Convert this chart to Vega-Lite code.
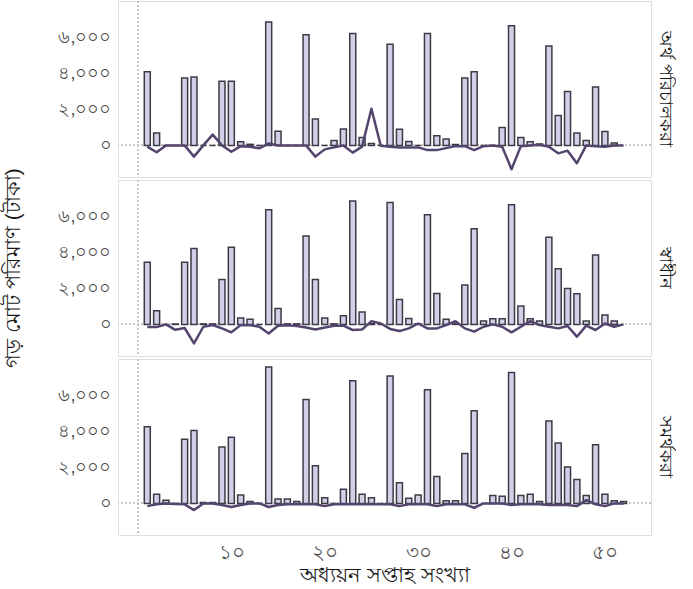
{
  "$schema": "https://vega.github.io/schema/vega-lite/v6.json",
  "padding": {"left": 2, "top": 0, "right": 2, "bottom": 4},
  "datasets": {
    "raw": [
      {"g":"অর্থ পরিচালকরা","week":1,"amount":4080,"diff":-70},
      {"g":"অর্থ পরিচালকরা","week":2,"amount":690,"diff":-380},
      {"g":"অর্থ পরিচালকরা","week":3,"amount":0,"diff":0},
      {"g":"অর্থ পরিচালকরা","week":4,"amount":0,"diff":0},
      {"g":"অর্থ পরিচালকরা","week":5,"amount":3740,"diff":0},
      {"g":"অর্থ পরিচালকরা","week":6,"amount":3790,"diff":-620},
      {"g":"অর্থ পরিচালকরা","week":7,"amount":0,"diff":0},
      {"g":"অর্থ পরিচালকরা","week":8,"amount":0,"diff":600},
      {"g":"অর্থ পরিচালকরা","week":9,"amount":3550,"diff":0},
      {"g":"অর্থ পরিচালকরা","week":10,"amount":3550,"diff":-350},
      {"g":"অর্থ পরিচালকরা","week":11,"amount":200,"diff":-40},
      {"g":"অর্থ পরিচালকরা","week":12,"amount":60,"diff":-70},
      {"g":"অর্থ পরিচালকরা","week":13,"amount":0,"diff":-160},
      {"g":"অর্থ পরিচালকরা","week":14,"amount":6830,"diff":110},
      {"g":"অর্থ পরিচালকরা","week":15,"amount":790,"diff":0},
      {"g":"অর্থ পরিচালকরা","week":16,"amount":0,"diff":0},
      {"g":"অর্থ পরিচালকরা","week":17,"amount":0,"diff":0},
      {"g":"অর্থ পরিচালকরা","week":18,"amount":6130,"diff":0},
      {"g":"অর্থ পরিচালকরা","week":19,"amount":1460,"diff":-620},
      {"g":"অর্থ পরিচালকরা","week":20,"amount":0,"diff":-220},
      {"g":"অর্থ পরিচালকরা","week":21,"amount":270,"diff":-110},
      {"g":"অর্থ পরিচালকরা","week":22,"amount":910,"diff":0},
      {"g":"অর্থ পরিচালকরা","week":23,"amount":6200,"diff":-400},
      {"g":"অর্থ পরিচালকরা","week":24,"amount":440,"diff":-70},
      {"g":"অর্থ পরিচালকরা","week":25,"amount":100,"diff":2030},
      {"g":"অর্থ পরিচালকরা","week":26,"amount":0,"diff":-20},
      {"g":"অর্থ পরিচালকরা","week":27,"amount":5600,"diff":-70},
      {"g":"অর্থ পরিচালকরা","week":28,"amount":900,"diff":-110},
      {"g":"অর্থ পরিচালকরা","week":29,"amount":220,"diff":-110},
      {"g":"অর্থ পরিচালকরা","week":30,"amount":0,"diff":-110},
      {"g":"অর্থ পরিচালকরা","week":31,"amount":6200,"diff":-260},
      {"g":"অর্থ পরিচালকরা","week":32,"amount":530,"diff":-260},
      {"g":"অর্থ পরিচালকরা","week":33,"amount":360,"diff":-150},
      {"g":"অর্থ পরিচালকরা","week":34,"amount":50,"diff":-40},
      {"g":"অর্থ পরিচালকরা","week":35,"amount":3740,"diff":-40},
      {"g":"অর্থ পরিচালকরা","week":36,"amount":4080,"diff":-260},
      {"g":"অর্থ পরিচালকরা","week":37,"amount":0,"diff":-40},
      {"g":"অর্থ পরিচালকরা","week":38,"amount":0,"diff":0},
      {"g":"অর্থ পরিচালকরা","week":39,"amount":990,"diff":-70},
      {"g":"অর্থ পরিচালকরা","week":40,"amount":6630,"diff":-1320},
      {"g":"অর্থ পরিচালকরা","week":41,"amount":440,"diff":-40},
      {"g":"অর্থ পরিচালকরা","week":42,"amount":200,"diff":0},
      {"g":"অর্থ পরিচালকরা","week":43,"amount":80,"diff":40},
      {"g":"অর্থ পরিচালকরা","week":44,"amount":5510,"diff":-70},
      {"g":"অর্থ পরিচালকরা","week":45,"amount":1660,"diff":-440},
      {"g":"অর্থ পরিচালকরা","week":46,"amount":2980,"diff":-290},
      {"g":"অর্থ পরিচালকরা","week":47,"amount":690,"diff":-990},
      {"g":"অর্থ পরিচালকরা","week":48,"amount":270,"diff":0},
      {"g":"অর্থ পরিচালকরা","week":49,"amount":3240,"diff":-40},
      {"g":"অর্থ পরিচালকরা","week":50,"amount":770,"diff":-70},
      {"g":"অর্থ পরিচালকরা","week":51,"amount":140,"diff":0},
      {"g":"অর্থ পরিচালকরা","week":52,"amount":null,"diff":0},
      {"g":"স্বাধীন","week":1,"amount":3450,"diff":-150},
      {"g":"স্বাধীন","week":2,"amount":760,"diff":-150},
      {"g":"স্বাধীন","week":3,"amount":0,"diff":0},
      {"g":"স্বাধীন","week":4,"amount":20,"diff":-300},
      {"g":"স্বাধীন","week":5,"amount":3450,"diff":-200},
      {"g":"স্বাধীন","week":6,"amount":4200,"diff":-1050},
      {"g":"স্বাধীন","week":7,"amount":30,"diff":-130},
      {"g":"স্বাধীন","week":8,"amount":30,"diff":-30},
      {"g":"স্বাধীন","week":9,"amount":2490,"diff":-220},
      {"g":"স্বাধীন","week":10,"amount":4280,"diff":-440},
      {"g":"স্বাধীন","week":11,"amount":350,"diff":-40},
      {"g":"স্বাধীন","week":12,"amount":280,"diff":-40},
      {"g":"স্বাধীন","week":13,"amount":0,"diff":-130},
      {"g":"স্বাধীন","week":14,"amount":6350,"diff":-500},
      {"g":"স্বাধীন","week":15,"amount":880,"diff":-70},
      {"g":"স্বাধীন","week":16,"amount":30,"diff":-40},
      {"g":"স্বাধীন","week":17,"amount":30,"diff":-90},
      {"g":"স্বাধীন","week":18,"amount":4900,"diff":-170},
      {"g":"স্বাধীন","week":19,"amount":2490,"diff":-280},
      {"g":"স্বাধীন","week":20,"amount":350,"diff":-170},
      {"g":"স্বাধীন","week":21,"amount":30,"diff":-70},
      {"g":"স্বাধীন","week":22,"amount":480,"diff":-70},
      {"g":"স্বাধীন","week":23,"amount":6830,"diff":-310},
      {"g":"স্বাধীন","week":24,"amount":690,"diff":-280},
      {"g":"স্বাধীন","week":25,"amount":30,"diff":180},
      {"g":"স্বাধীন","week":26,"amount":0,"diff":50},
      {"g":"স্বাধীন","week":27,"amount":6760,"diff":-250},
      {"g":"স্বাধীন","week":28,"amount":1380,"diff":-370},
      {"g":"স্বাধীন","week":29,"amount":330,"diff":-220},
      {"g":"স্বাধীন","week":30,"amount":30,"diff":50},
      {"g":"স্বাধীন","week":31,"amount":6080,"diff":-220},
      {"g":"স্বাধীন","week":32,"amount":1710,"diff":-220},
      {"g":"স্বাধীন","week":33,"amount":280,"diff":-40},
      {"g":"স্বাধীন","week":34,"amount":30,"diff":180},
      {"g":"স্বাধীন","week":35,"amount":2190,"diff":-220},
      {"g":"স্বাধীন","week":36,"amount":5300,"diff":-400},
      {"g":"স্বাধীন","week":37,"amount":190,"diff":-130},
      {"g":"স্বাধীন","week":38,"amount":310,"diff":0},
      {"g":"স্বাধীন","week":39,"amount":310,"diff":-130},
      {"g":"স্বাধীন","week":40,"amount":6630,"diff":-440},
      {"g":"স্বাধীন","week":41,"amount":1020,"diff":-130},
      {"g":"স্বাধীন","week":42,"amount":310,"diff":180},
      {"g":"স্বাধীন","week":43,"amount":190,"diff":-40},
      {"g":"স্বাধীন","week":44,"amount":4830,"diff":-130},
      {"g":"স্বাধীন","week":45,"amount":3090,"diff":-220},
      {"g":"স্বাধীন","week":46,"amount":1990,"diff":-90},
      {"g":"স্বাধীন","week":47,"amount":1700,"diff":-680},
      {"g":"স্বাধীন","week":48,"amount":190,"diff":-70},
      {"g":"স্বাধীন","week":49,"amount":3850,"diff":-310},
      {"g":"স্বাধীন","week":50,"amount":520,"diff":50},
      {"g":"স্বাধীন","week":51,"amount":190,"diff":-130},
      {"g":"স্বাধীন","week":52,"amount":null,"diff":0},
      {"g":"সমর্থকরা","week":1,"amount":4240,"diff":-150},
      {"g":"সমর্থকরা","week":2,"amount":510,"diff":-50},
      {"g":"সমর্থকরা","week":3,"amount":180,"diff":0},
      {"g":"সমর্থকরা","week":4,"amount":0,"diff":-30},
      {"g":"সমর্থকরা","week":5,"amount":3560,"diff":-50},
      {"g":"সমর্থকরা","week":6,"amount":4040,"diff":-370},
      {"g":"সমর্থকরা","week":7,"amount":50,"diff":0},
      {"g":"সমর্থকরা","week":8,"amount":50,"diff":0},
      {"g":"সমর্থকরা","week":9,"amount":3120,"diff":-90},
      {"g":"সমর্থকরা","week":10,"amount":3670,"diff":-200},
      {"g":"সমর্থকরা","week":11,"amount":460,"diff":-90},
      {"g":"সমর্থকরা","week":12,"amount":110,"diff":0},
      {"g":"সমর্থকরা","week":13,"amount":0,"diff":0},
      {"g":"সমর্থকরা","week":14,"amount":7560,"diff":-200},
      {"g":"সমর্থকরা","week":15,"amount":240,"diff":-90},
      {"g":"সমর্থকরা","week":16,"amount":240,"diff":-50},
      {"g":"সমর্থকরা","week":17,"amount":110,"diff":-50},
      {"g":"সমর্থকরা","week":18,"amount":5760,"diff":-50},
      {"g":"সমর্থকরা","week":19,"amount":2090,"diff":-50},
      {"g":"সমর্থকরা","week":20,"amount":310,"diff":-150},
      {"g":"সমর্থকরা","week":21,"amount":0,"diff":-50},
      {"g":"সমর্থকরা","week":22,"amount":790,"diff":-50},
      {"g":"সমর্থকরা","week":23,"amount":6790,"diff":-50},
      {"g":"সমর্থকরা","week":24,"amount":510,"diff":-50},
      {"g":"সমর্থকরা","week":25,"amount":310,"diff":-50},
      {"g":"সমর্থকরা","week":26,"amount":0,"diff":-50},
      {"g":"সমর্থকরা","week":27,"amount":7060,"diff":-50},
      {"g":"সমর্থকরা","week":28,"amount":1140,"diff":-150},
      {"g":"সমর্থকরা","week":29,"amount":280,"diff":-50},
      {"g":"সমর্থকরা","week":30,"amount":460,"diff":-50},
      {"g":"সমর্থকরা","week":31,"amount":6290,"diff":-50},
      {"g":"সমর্থকরা","week":32,"amount":1490,"diff":-150},
      {"g":"সমর্থকরা","week":33,"amount":150,"diff":-50},
      {"g":"সমর্থকরা","week":34,"amount":150,"diff":-50},
      {"g":"সমর্থকরা","week":35,"amount":2770,"diff":-50},
      {"g":"সমর্থকরা","week":36,"amount":5140,"diff":-240},
      {"g":"সমর্থকরা","week":37,"amount":null,"diff":0},
      {"g":"সমর্থকরা","week":38,"amount":440,"diff":0},
      {"g":"সমর্থকরা","week":39,"amount":390,"diff":0},
      {"g":"সমর্থকরা","week":40,"amount":7250,"diff":-90},
      {"g":"সমর্থকরা","week":41,"amount":440,"diff":-50},
      {"g":"সমর্থকরা","week":42,"amount":510,"diff":-50},
      {"g":"সমর্থকরা","week":43,"amount":110,"diff":-50},
      {"g":"সমর্থকরা","week":44,"amount":4570,"diff":-90},
      {"g":"সমর্থকরা","week":45,"amount":3340,"diff":-90},
      {"g":"সমর্থকরা","week":46,"amount":2020,"diff":-90},
      {"g":"সমর্থকরা","week":47,"amount":1320,"diff":-150},
      {"g":"সমর্থকরা","week":48,"amount":440,"diff":180},
      {"g":"সমর্থকরা","week":49,"amount":3250,"diff":-50},
      {"g":"সমর্থকরা","week":50,"amount":510,"diff":-150},
      {"g":"সমর্থকরা","week":51,"amount":150,"diff":0},
      {"g":"সমর্থকরা","week":52,"amount":110,"diff":0}
    ]
  },
  "data": {"name": "raw"},
  "facet": {
    "row": {
      "field": "g",
      "type": "nominal",
      "sort": ["অর্থ পরিচালকরা", "স্বাধীন", "সমর্থকরা"],
      "title": "গড় মোট পরিমাণ (টাকা)",
      "header": {
        "labelOrient": "right",
        "labelAngle": 90,
        "labelFontSize": 18,
        "labelColor": "#1a1a1a",
        "labelPadding": 4,
        "titleOrient": "left",
        "titleAngle": -90,
        "titleFontSize": 21,
        "titleFontWeight": "normal",
        "titleColor": "#1a1a1a",
        "titlePadding": 2
      }
    }
  },
  "spacing": {"row": 1},
  "spec": {
    "width": 533,
    "height": 176,
    "layer": [
      {
        "mark": {"type": "rule", "color": "#c8c8c8", "strokeDash": [2, 2], "strokeWidth": 1},
        "encoding": {"y": {"datum": 0, "type": "quantitative"}}
      },
      {
        "mark": {"type": "rule", "color": "#c8c8c8", "strokeDash": [2, 2], "strokeWidth": 1},
        "encoding": {"x": {"datum": 0, "type": "quantitative"}}
      },
      {
        "mark": {"type": "bar", "width": 6, "fill": "#d2d0e6", "stroke": "#3c3a46", "strokeWidth": 1.5},
        "encoding": {
          "x": {
            "field": "week", "type": "quantitative",
            "scale": {"domain": [-1.6, 54.4], "nice": false, "zero": false},
            "axis": {
              "values": [10, 20, 30, 40, 50],
              "title": "অধ্যয়ন সপ্তাহ সংখ্যা",
              "labelFontSize": 20,
              "labelExpr": "replace(replace(replace(replace(replace(replace(datum.label,regexp('0','g'),'০'),regexp('1','g'),'১'),regexp('2','g'),'২'),regexp('3','g'),'৩'),regexp('4','g'),'৪'),regexp('5','g'),'৫')"
            }
          },
          "y": {
            "field": "amount", "type": "quantitative",
            "scale": {"domain": [-1750, 8000], "nice": false, "zero": false},
            "axis": {
              "values": [0, 2000, 4000, 6000],
              "format": ",.0f",
              "title": null,
              "labelFontSize": 18,
              "labelExpr": "replace(replace(replace(replace(datum.label,regexp('0','g'),'০'),regexp('2','g'),'২'),regexp('4','g'),'৪'),regexp('6','g'),'৬')"
            }
          }
        }
      },
      {
        "mark": {"type": "line", "color": "#54456e", "strokeWidth": 2.5, "strokeJoin": "round"},
        "encoding": {
          "x": {"field": "week", "type": "quantitative"},
          "y": {"field": "diff", "type": "quantitative"}
        }
      }
    ]
  },
  "config": {
    "view": {"stroke": "#dedede", "strokeWidth": 1},
    "axis": {
      "domain": false,
      "ticks": false,
      "gridColor": "#ececec",
      "gridWidth": 1,
      "labelColor": "#4d4d4d",
      "labelPadding": 6,
      "titleFontSize": 21,
      "titleFontWeight": "normal",
      "titleColor": "#1a1a1a"
    },
    "axisX": {"titlePadding": 2}
  }
}
